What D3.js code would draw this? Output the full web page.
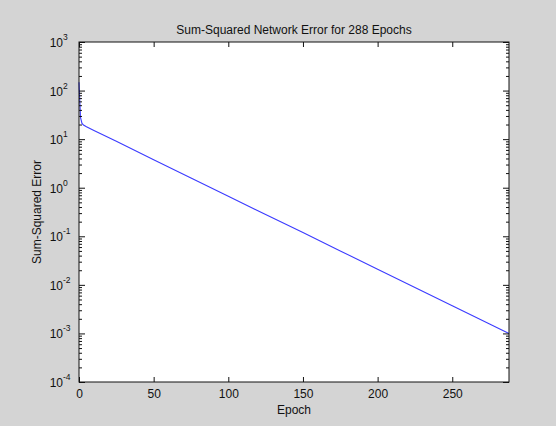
<!DOCTYPE html>
<html><head><meta charset="utf-8">
<script src="https://cdn.jsdelivr.net/npm/d3@7"></script>
<style>
html,body{margin:0;padding:0;background:#d4d4d4;}
svg{display:block;}
text{font-family:"Liberation Sans",Arial,sans-serif;fill:#111;}
</style></head><body>
<svg id="c" width="556" height="426"></svg>
<script>
// ---- data ----
const epochs = [0, 1, 2, 3, 5, 10, 25, 50, 75, 100, 125, 150, 175, 200, 225, 250, 275, 288];
const sse    = [148, 28, 21, 19.6, 18, 15.1, 9.0, 3.78, 1.59, 0.67, 0.28, 0.119, 0.050, 0.021, 0.0088, 0.0037, 0.00156, 0.001];
const xTicks = [0, 50, 100, 150, 200, 250];
const yExponents = [3, 2, 1, 0, -1, -2, -3, -4];
const titleText = "Sum-Squared Network Error for 288 Epochs";
const xLabel = "Epoch";
const yLabel = "Sum-Squared Error";

const W = 556, H = 426;
const m = {left: 79, right: 47, top: 42, bottom: 44};
const iw = W - m.left - m.right, ih = H - m.top - m.bottom;

const svg = d3.select("#c");
svg.append("rect").attr("width", W).attr("height", H).attr("fill", "#d4d4d4");
const g = svg.append("g").attr("transform", `translate(${m.left},${m.top})`);

const x = d3.scaleLinear().domain([0, 288]).range([0, iw]);
const y = d3.scaleLog().domain([1e-4, 1e3]).range([ih, 0]);

g.append("rect").attr("width", iw).attr("height", ih).attr("fill", "#fff");

// minor y ticks
const minorTicks = [];
for (let e = -4; e < 3; e++) for (let k = 2; k <= 9; k++) minorTicks.push(k * Math.pow(10, e));

// line
const data = epochs.map((e, i) => ({e, v: sse[i]}));
g.append("path").datum(data)
  .attr("fill", "none").attr("stroke", "#3b3bff").attr("stroke-width", 1.1)
  .attr("d", d3.line().x(d => x(d.e)).y(d => y(d.v)));

// axes with inward ticks
const axStyle = sel => {
  sel.select(".domain").remove();
  sel.selectAll("line").attr("stroke", "#111");
};
g.append("g").attr("transform", `translate(0,${ih})`)
  .call(d3.axisBottom(x).tickValues(xTicks).tickSize(-5).tickPadding(7).tickFormat(d3.format("d")))
  .call(axStyle)
  .call(s => s.selectAll("text").attr("font-size", 12).attr("fill", "#111")
    .attr("font-family", '"Liberation Sans",Arial,sans-serif'));
g.append("g")
  .call(d3.axisTop(x).tickValues(xTicks).tickSize(-5).tickFormat(""))
  .call(axStyle);

const majors = yExponents.map(p => Math.pow(10, p));
g.append("g").call(d3.axisLeft(y).tickValues(majors).tickSize(-6).tickFormat("")).call(axStyle);
g.append("g").call(d3.axisLeft(y).tickValues(minorTicks).tickSize(-3).tickFormat("")).call(axStyle);
g.append("g").attr("transform", `translate(${iw},0)`)
  .call(d3.axisRight(y).tickValues(majors).tickSize(-6).tickFormat("")).call(axStyle);
g.append("g").attr("transform", `translate(${iw},0)`)
  .call(d3.axisRight(y).tickValues(minorTicks).tickSize(-3).tickFormat("")).call(axStyle);

// box
g.append("rect").attr("width", iw).attr("height", ih)
  .attr("fill", "none").attr("stroke", "#111").attr("stroke-width", 1);

// y tick labels 10^p
const yl = g.append("g");
yExponents.forEach(p => {
  const yy = y(Math.pow(10, p));
  yl.append("text").attr("x", -16).attr("y", yy + 5).attr("text-anchor", "end")
    .attr("font-size", 12).text("10");
  yl.append("text").attr("x", -16).attr("y", yy - 2).attr("text-anchor", "start")
    .attr("font-size", 8.5).text(p < 0 ? "-" + (-p) : String(p));
});

// titles
svg.append("text").attr("x", m.left + iw / 2).attr("y", 34).attr("text-anchor", "middle")
  .attr("font-size", 12).text(titleText);
svg.append("text").attr("x", m.left + iw / 2).attr("y", 414).attr("text-anchor", "middle")
  .attr("font-size", 12).text(xLabel);
svg.append("text").attr("transform", `translate(41,${m.top + ih / 2}) rotate(-90)`)
  .attr("text-anchor", "middle").attr("font-size", 12).text(yLabel);
</script>
</body></html>
